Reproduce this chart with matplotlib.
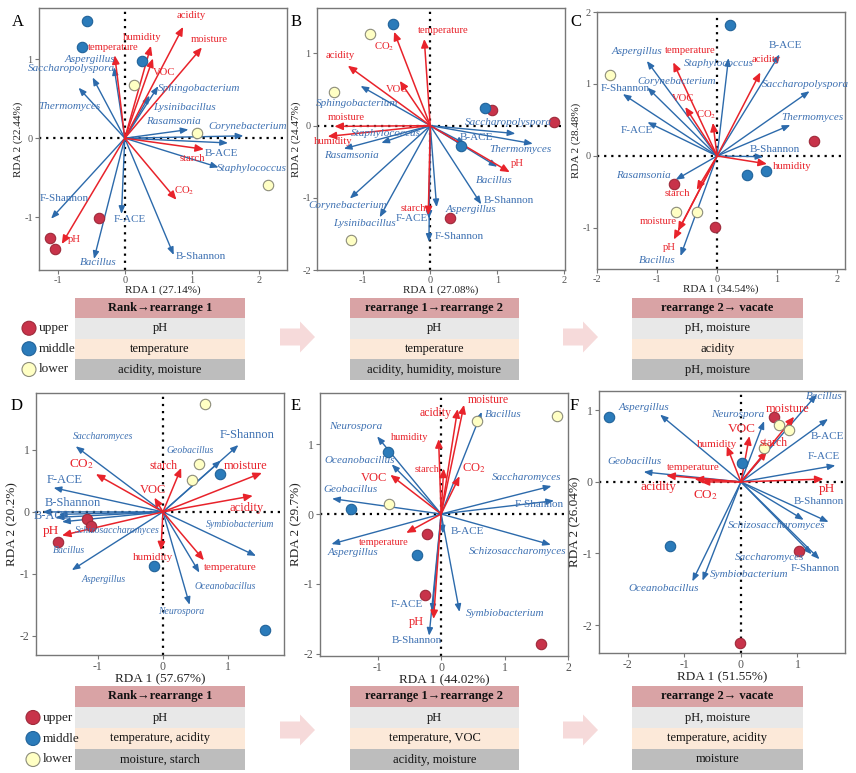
import matplotlib
matplotlib.use('Agg')
import matplotlib.pyplot as plt
from matplotlib.patches import Rectangle, FancyArrow, Circle

plt.rcParams['font.family'] = ['Liberation Serif', 'DejaVu Serif']
plt.rcParams['mathtext.fontset'] = 'stix'
plt.rcParams['axes.unicode_minus'] = False

# ---------------- DATA ----------------
groups = ['upper'] * 3 + ['middle'] * 3 + ['lower'] * 3

# Panel A
A_site_x = [-1.04, -1.12, -0.39, -0.57, -0.64, 0.26, 0.13, 1.07, 2.14]
A_site_y = [-1.40, -1.26, -1.01, 1.49, 1.15, 0.98, 0.67, 0.07, -0.59]
A_env = ['acidity', 'moisture', 'humidity', 'VOC', 'temperature', 'starch', 'CO2', 'pH']
A_env_x = [0.87, 1.15, 0.39, 0.42, -0.15, 1.18, 0.77, -0.94]
A_env_y = [1.41, 1.15, 1.17, 1.01, 1.05, -0.14, -0.78, -1.34]
A_sp = ['Aspergillus', 'Saccharopolyspora', 'Thermomyces', 'Sphingobacterium', 'Lysinibacillus',
        'Rasamsonia', 'Corynebacterium', 'B-ACE', 'Staphylococcus', 'B-Shannon', 'F-ACE',
        'Bacillus', 'F-Shannon']
A_sp_x = [-0.16, -0.48, -0.69, 0.50, 0.37, 0.95, 1.77, 1.54, 1.40, 0.73, -0.05, -0.46, -1.10]
A_sp_y = [0.90, 0.77, 0.64, 0.66, 0.54, 0.11, 0.03, -0.06, -0.37, -1.48, -0.96, -1.53, -1.02]

# Panel B
B_site_x = [0.92, 1.85, 0.29, -0.555, 0.82, 0.46, -0.905, -1.43, -1.18]
B_site_y = [0.22, 0.05, -1.28, 1.41, 0.25, -0.28, 1.27, 0.46, -1.59]
B_env = ['temperature', 'CO2', 'acidity', 'VOC', 'moisture', 'humidity', 'pH', 'starch']
B_env_x = [-0.09, -0.54, -1.23, -0.455, -1.43, -1.53, 1.185, -0.03]
B_env_y = [1.20, 1.30, 0.83, 0.62, -0.01, -0.15, -0.645, -1.24]
B_sp = ['Sphingobacterium', 'Staphylococcus', 'Rasamsonia', 'Corynebacterium', 'Lysinibacillus',
        'F-ACE', 'F-Shannon', 'Aspergillus', 'B-Shannon', 'Bacillus', 'B-ACE',
        'Saccharopolyspora', 'Thermomyces']
B_sp_x = [-1.04, -0.73, -1.29, -1.20, -0.755, -0.02, -0.02, 0.095, 0.76, 1.0, 0.52, 1.27, 1.53]
B_sp_y = [0.55, -0.24, -0.32, -1.01, -1.27, -1.29, -1.61, -1.13, -1.09, -0.57, -0.25, -0.11, -0.25]

# Panel C
C_site_x = [1.62, -0.72, -0.04, 0.22, 0.49, 0.81, -1.78, -0.68, -0.34]
C_site_y = [0.21, -0.39, -0.99, 1.82, -0.26, -0.21, 1.12, -0.78, -0.78]
C_env = ['temperature', 'acidity', 'VOC', 'CO2', 'humidity', 'starch', 'moisture', 'pH']
C_env_x = [-0.73, 0.72, -0.53, -0.07, 0.83, -0.34, -0.65, -0.72]
C_env_y = [1.30, 1.16, 0.68, 0.46, -0.11, -0.47, -1.04, -1.16]
C_sp = ['Aspergillus', 'Staphylococcus', 'B-ACE', 'Corynebacterium', 'F-Shannon',
        'Saccharopolyspora', 'Thermomyces', 'F-ACE', 'B-Shannon', 'Rasamsonia', 'Bacillus']
C_sp_x = [-1.17, 0.19, 1.04, -1.16, -1.57, 1.54, 1.22, -1.16, 0.77, -0.69, -0.61]
C_sp_y = [1.32, 1.36, 1.41, 0.95, 0.86, 0.90, 0.43, 0.47, -0.01, -0.33, -1.39]

# Panel D
D_site_x = [-1.16, -1.11, -1.61, 0.88, -0.13, 1.57, 0.64, 0.56, 0.44]
D_site_y = [-0.11, -0.22, -0.49, 0.61, -0.88, -1.91, 1.74, 0.77, 0.51]
D_env = ['CO2', 'starch', 'VOC', 'moisture', 'acidity', 'pH', 'humidity', 'temperature']
D_env_x = [-1.03, 0.28, -0.13, 1.52, 1.38, -1.55, -0.03, 0.63]
D_env_y = [0.61, 0.71, 0.23, 0.63, 0.26, -0.38, -0.62, -0.78]
D_sp = ['Saccharomyces', 'F-Shannon', 'Geobacillus', 'F-ACE', 'B-Shannon', 'B-ACE',
        'Schizosaccharomyces', 'Bacillus', 'Aspergillus', 'Symbiobacterium',
        'Oceanobacillus', 'Neurospora']
D_sp_x = [-1.34, 1.16, 0.89, -1.68, -1.85, -1.65, -1.55, -1.60, -1.40, 1.43, 0.56, 0.41]
D_sp_y = [1.06, 1.08, 0.83, 0.39, 0.0, -0.09, -0.16, -0.04, -0.94, -0.71, -0.98, -1.50]

# Panel E
E_site_x = [-0.23, -0.25, 1.57, -0.84, -1.42, -0.38, 0.57, 1.83, -0.82]
E_site_y = [-0.29, -1.16, -1.86, 0.88, 0.07, -0.58, 1.33, 1.40, 0.15]
E_env = ['acidity', 'moisture', 'humidity', 'starch', 'CO2', 'VOC', 'temperature', 'pH']
E_env_x = [0.26, 0.36, -0.04, 0.04, 0.29, -0.80, -0.55, -0.12]
E_env_y = [1.50, 1.56, 1.07, 0.65, 0.54, 0.56, -0.27, -1.50]
E_sp = ['Bacillus', 'Neurospora', 'Oceanobacillus', 'Geobacillus', 'Saccharomyces',
        'F-Shannon', 'B-ACE', 'Schizosaccharomyces', 'Aspergillus', 'Symbiobacterium',
        'F-ACE', 'B-Shannon']
E_sp_x = [0.64, -1.01, -0.78, -1.72, 1.74, 1.78, 0.03, 1.73, -1.73, 0.29, -0.14, -0.19]
E_sp_y = [1.46, 1.11, 0.71, 0.22, 0.40, 0.19, -0.28, -0.44, -0.43, -1.40, -1.40, -1.74]

# Panel F
F_site_x = [0.59, 1.02, -0.02, -2.33, -1.25, 0.01, 0.68, 0.85, 0.41]
F_site_y = [0.91, -0.96, -2.25, 0.91, -0.90, 0.26, 0.80, 0.72, 0.47]
F_env = ['moisture', 'VOC', 'humidity', 'starch', 'temperature', 'acidity', 'CO2', 'pH']
F_env_x = [0.94, 0.15, -0.25, 0.46, -1.32, -0.82, -0.71, 1.46]
F_env_y = [0.91, 0.64, 0.50, 0.43, 0.09, 0.04, 0.0, 0.04]
F_sp = ['Aspergillus', 'Neurospora', 'Bacillus', 'B-ACE', 'F-ACE', 'Geobacillus',
        'B-Shannon', 'Schizosaccharomyces', 'Saccharomyces', 'F-Shannon',
        'Symbiobacterium', 'Oceanobacillus']
F_sp_x = [-1.43, 0.41, 1.34, 1.54, 1.67, -1.72, 1.55, 1.11, 1.25, 1.39, -0.68, -0.86]
F_sp_y = [0.94, 0.85, 1.22, 0.88, 0.23, 0.14, -0.56, -0.53, -1.01, -1.08, -1.38, -1.39]

pct1 = ['27.14%', '27.08%', '34.54%', '57.67%', '44.02%', '51.55%']
pct2 = ['22.44%', '24.47%', '28.48%', '20.2%', '29.7%', '26.04%']
panel_letters = ['A', 'B', 'C', 'D', 'E', 'F']

table_titles = ['Rank\u2192rearrange 1', 'rearrange 1\u2192rearrange 2', 'rearrange 2\u2192 vacate']
top_rows = [['pH', 'temperature', 'acidity, moisture'],
            ['pH', 'temperature', 'acidity, humidity, moisture'],
            ['pH, moisture', 'acidity', 'pH, moisture']]
bottom_rows = [['pH', 'temperature, acidity', 'moisture, starch'],
               ['pH', 'temperature, VOC', 'acidity, moisture'],
               ['pH, moisture', 'temperature, acidity', 'moisture']]
legend_labels = ['upper', 'middle', 'lower']

# ---------------- LAYOUT / STYLE ----------------
W, H = 856, 773
RED = '#E8232B'
BLUE = '#2C6AAB'
BLUE_TXT = '#3E71B2'
site_face = {'upper': '#C8334A', 'middle': '#2B7BBA', 'lower': '#FFFFC4'}
site_edge = {'upper': '#9E2A3A', 'middle': '#21639A', 'lower': '#8C8C7A'}

# label offsets (pixels) relative to arrow tip
A_off = {'acidity': (8, 11), 'moisture': (7, 8), 'humidity': (-9, 8), 'VOC': (11, -14),
         'temperature': (-2, 8), 'starch': (-12, -9), 'CO2': (8, 9), 'pH': (13, 4),
         'Aspergillus': (-24, 8), 'Saccharopolyspora': (-21, 9), 'Thermomyces': (-9, -19),
         'Sphingobacterium': (41, -2), 'Lysinibacillus': (35, -12), 'Rasamsonia': (-15, 8),
         'Corynebacterium': (4, 9), 'B-ACE': (-7, -11), 'Staphylococcus': (33, -1),
         'B-Shannon': (27, -1), 'F-ACE': (8, -6), 'Bacillus': (4, -4), 'F-Shannon': (13, 20)}
B_off = {'temperature': (19, 9), 'CO2': (-10, -15), 'acidity': (-8, 10), 'VOC': (-3, -9),
         'moisture': (12, 9), 'humidity': (5, -5), 'pH': (8, 9), 'starch': (-15, 7),
         'Sphingobacterium': (-4, -18), 'Staphylococcus': (5, 9), 'Rasamsonia': (8, -7),
         'Corynebacterium': (-2, -7), 'Lysinibacillus': (-15, -6), 'F-ACE': (-17, 0),
         'F-Shannon': (30, 5), 'Aspergillus': (34, -2), 'B-Shannon': (28, 4),
         'Bacillus': (-3, -14), 'B-ACE': (11, 6), 'Saccharopolyspora': (-7, 11),
         'Thermomyces': (-12, -6)}
C_off = {'temperature': (17, 12), 'acidity': (6, 13), 'VOC': (-2, 9), 'CO2': (-7, 8),
         'humidity': (25, -3), 'starch': (-19, -4), 'moisture': (-20, 9), 'pH': (-5, -8),
         'Aspergillus': (-10, 9), 'Staphylococcus': (-10, -5), 'B-ACE': (6, 9),
         'Corynebacterium': (29, 6), 'F-Shannon': (2, 6), 'Saccharopolyspora': (-4, 7),
         'Thermomyces': (22, 8), 'F-ACE': (-11, -8), 'B-Shannon': (11, 7),
         'Rasamsonia': (-32, 4), 'Bacillus': (-23, -4)}
D_off = {'CO2': (-14, 10), 'starch': (-18, 2), 'VOC': (-1, 8), 'moisture': (-16, 7),
         'acidity': (-6, -12), 'pH': (-11, 4), 'humidity': (-8, -7), 'temperature': (26, -7),
         'Saccharomyces': (27, 10), 'F-Shannon': (9, 10), 'Geobacillus': (-31, 10),
         'F-ACE': (11, 8), 'B-Shannon': (30, 9), 'B-ACE': (-3, 1),
         'Schizosaccharomyces': (55, -9), 'Bacillus': (10, -36), 'Aspergillus': (32, -9),
         'Symbiobacterium': (-16, 31), 'Oceanobacillus': (26, -14), 'Neurospora': (-8, -7)}
E_off = {'acidity': (-22, -4), 'moisture': (24, 5), 'humidity': (-29, 2), 'starch': (-17, -1),
         'CO2': (14, 8), 'VOC': (-16, -3), 'temperature': (-23, -10), 'pH': (-17, -3),
         'Bacillus': (22, -3), 'Neurospora': (-21, 10), 'Oceanobacillus': (-32, 4),
         'Geobacillus': (18, 9), 'Saccharomyces': (-25, 9), 'F-Shannon': (-15, -4),
         'B-ACE': (24, 2), 'Schizosaccharomyces': (-33, -7), 'Aspergillus': (22, -8),
         'Symbiobacterium': (46, -2), 'F-ACE': (-25, 7), 'B-Shannon': (-12, -5)}
F_off = {'moisture': (-7, 8), 'VOC': (-8, 7), 'humidity': (-10, 2), 'starch': (7, 8),
         'temperature': (27, 8), 'acidity': (-36, -8), 'CO2': (5, -13), 'pH': (3, -10),
         'Aspergillus': (-16, 7), 'Neurospora': (-26, 7), 'Bacillus': (8, -2),
         'B-ACE': (-1, -18), 'F-ACE': (-12, 9), 'Geobacillus': (-9, 10),
         'B-Shannon': (-10, 21), 'Schizosaccharomyces': (-27, -6),
         'Saccharomyces': (-42, -3), 'F-Shannon': (-4, -9), 'Symbiobacterium': (47, 6),
         'Oceanobacillus': (-29, -7)}

env_fs = [{}, {}, {},
          {'CO2': 9.5, 'starch': 8.5, 'VOC': 9, 'moisture': 9, 'acidity': 9, 'pH': 9.5,
           'humidity': 8, 'temperature': 8},
          {'moisture': 8.5, 'acidity': 8.5, 'humidity': 7.5, 'starch': 7.5, 'CO2': 9,
           'VOC': 9, 'temperature': 7.5, 'pH': 9},
          {'moisture': 9, 'VOC': 9.5, 'humidity': 8, 'starch': 8.5, 'temperature': 8,
           'acidity': 9.5, 'CO2': 9.5, 'pH': 9.5}]
env_fs_default = [7.7, 7.7, 7.7, 8.5, 8.5, 8.5]
sp_fs = [8, 8, 8, 7, 8, 8]          # italic genus labels
idx_fs = [8, 8, 8, 9, 8, 8]         # B-/F- index labels
tick_fs = [7.5, 7.5, 7.5, 8.5, 8.5, 8.5]
lab_fs = [8, 8, 8, 9.5, 9.5, 9.5]

# axes rect in pixels: left, top, right, bottom
ax_px = [(39, 8, 287, 270), (317, 8, 565, 270), (597, 12, 845, 269),
         (36, 393, 284, 655), (320, 393, 568, 656), (599, 391, 845, 653)]
xlims = [(-1.28, 2.42), (-1.69, 2.01), (-2.0, 2.13), (-1.95, 1.86), (-1.91, 2.0), (-2.51, 1.84)]
ylims = [(-1.67, 1.65), (-2.0, 1.63), (-1.57, 2.0), (-2.31, 1.92), (-2.03, 1.73), (-2.39, 1.27)]
xticks = [[-1, 0, 1, 2], [-1, 0, 1, 2], [-2, -1, 0, 1, 2], [-1, 0, 1], [-1, 0, 1, 2], [-2, -1, 0, 1]]
yticks = [[-1, 0, 1], [-2, -1, 0, 1], [-1, 0, 1, 2], [-2, -1, 0, 1], [-2, -1, 0, 1], [-2, -1, 0, 1]]
letter_px = [(18, 22), (296, 22), (576, 22), (17, 406), (296, 406), (574, 406)]

panels = [
    (A_site_x, A_site_y, A_env, A_env_x, A_env_y, A_sp, A_sp_x, A_sp_y, A_off),
    (B_site_x, B_site_y, B_env, B_env_x, B_env_y, B_sp, B_sp_x, B_sp_y, B_off),
    (C_site_x, C_site_y, C_env, C_env_x, C_env_y, C_sp, C_sp_x, C_sp_y, C_off),
    (D_site_x, D_site_y, D_env, D_env_x, D_env_y, D_sp, D_sp_x, D_sp_y, D_off),
    (E_site_x, E_site_y, E_env, E_env_x, E_env_y, E_sp, E_sp_x, E_sp_y, E_off),
    (F_site_x, F_site_y, F_env, F_env_x, F_env_y, F_sp, F_sp_x, F_sp_y, F_off),
]


def disp(name):
    return 'CO$_2$' if name == 'CO2' else name


def is_italic(name):
    return not (name.startswith('B-') or name.startswith('F-'))


fig = plt.figure(figsize=(W / 100, H / 100), dpi=100)
fig.patch.set_facecolor('white')

# overlay for tables and decorations
ov = fig.add_axes([0, 0, 1, 1])
ov.set_xlim(0, W)
ov.set_ylim(H, 0)
ov.axis('off')

for i, (sx, sy, en, ex, ey, sp, spx, spy, off) in enumerate(panels):
    l, t, r, b = ax_px[i]
    ax = fig.add_axes([l / W, 1 - b / H, (r - l) / W, (b - t) / H])
    ax.set_xlim(*xlims[i])
    ax.set_ylim(*ylims[i])
    ax.set_xticks(xticks[i])
    ax.set_yticks(yticks[i])
    ax.tick_params(direction='out', length=3, width=0.8, color='#777777',
                   labelsize=tick_fs[i], labelcolor='#555555', pad=1.5)
    for s in ax.spines.values():
        s.set_color('#777777')
        s.set_linewidth(1.0)
    ax.axhline(0, color='black', lw=1.6, ls=(0, (1, 2.2)), zorder=1)
    ax.axvline(0, color='black', lw=1.6, ls=(0, (1, 2.2)), zorder=1)
    ax.set_xlabel(f'RDA 1 ({pct1[i]})', fontsize=lab_fs[i], labelpad=0, color='#222222')
    ax.set_ylabel(f'RDA 2 ({pct2[i]})', fontsize=lab_fs[i], labelpad=1, color='#222222')

    # species arrows
    for name, x, y in zip(sp, spx, spy):
        ax.annotate('', xy=(x, y), xytext=(0, 0),
                    arrowprops=dict(arrowstyle='-|>,head_length=0.45,head_width=0.18',
                                    color=BLUE, lw=1.0, shrinkA=0, shrinkB=0,
                                    mutation_scale=10), zorder=2)
        dx, dy = off.get(name, (0, 0))
        ital = is_italic(name)
        ax.annotate(disp(name), xy=(x, y), xytext=(dx, dy), textcoords='offset pixels',
                    ha='center', va='center', fontsize=sp_fs[i] if ital else idx_fs[i],
                    color=BLUE_TXT, style='italic' if ital else 'normal', zorder=5)
    # env arrows
    for name, x, y in zip(en, ex, ey):
        ax.annotate('', xy=(x, y), xytext=(0, 0),
                    arrowprops=dict(arrowstyle='-|>,head_length=0.5,head_width=0.22',
                                    color=RED, lw=1.1, shrinkA=0, shrinkB=0,
                                    mutation_scale=10), zorder=3)
        dx, dy = off.get(name, (0, 0))
        ax.annotate(disp(name), xy=(x, y), xytext=(dx, dy), textcoords='offset pixels',
                    ha='center', va='center', fontsize=env_fs[i].get(name, env_fs_default[i]),
                    color=RED, zorder=5)
    # sites
    for x, y, g in zip(sx, sy, groups):
        ax.plot(x, y, 'o', ms=7.5, mfc=site_face[g], mec=site_edge[g], mew=0.8, zorder=4)

    fig.text(letter_px[i][0] / W, 1 - letter_px[i][1] / H, panel_letters[i],
             fontsize=12, ha='center', va='center')

# tables
tab_x = [(75, 245), (350, 519), (632, 803)]
tab_y = [(298, 318, 338.5, 359, 380), (686, 707, 728, 749, 770)]
row_cols = ['#D9A3A5', '#E8E8E8', '#FCE9D9', '#BDBDBD']
for ti, rows_set in enumerate([top_rows, bottom_rows]):
    ys = tab_y[ti]
    for k in range(3):
        x0, x1 = tab_x[k]
        texts = [table_titles[k]] + rows_set[k]
        for j in range(4):
            ov.add_patch(Rectangle((x0, ys[j]), x1 - x0, ys[j + 1] - ys[j],
                                   facecolor=row_cols[j], edgecolor='none'))
            ov.text((x0 + x1) / 2, (ys[j] + ys[j + 1]) / 2, texts[j], ha='center', va='center',
                    fontsize=9, fontweight='bold' if j == 0 else 'normal', color='#111111')
    # arrows between tables
    ymid = 337 if ti == 0 else 730
    for xa in (280, 563):
        ov.add_patch(FancyArrow(xa, ymid, 35, 0, width=17, head_width=31, head_length=15,
                                length_includes_head=True, facecolor='#F6DADA',
                                edgecolor='none'))
    # legend
    lx = 29 if ti == 0 else 33
    for j, g in enumerate(legend_labels):
        yy = (ys[j + 1] + ys[j + 2]) / 2
        ov.add_patch(Circle((lx, yy), 7, facecolor=site_face[g], edgecolor=site_edge[g], lw=0.8))
        ov.text(lx + 10, yy, g, ha='left', va='center', fontsize=9.5, color='#222222')

fig.savefig('out.png', dpi=100, facecolor='white')
